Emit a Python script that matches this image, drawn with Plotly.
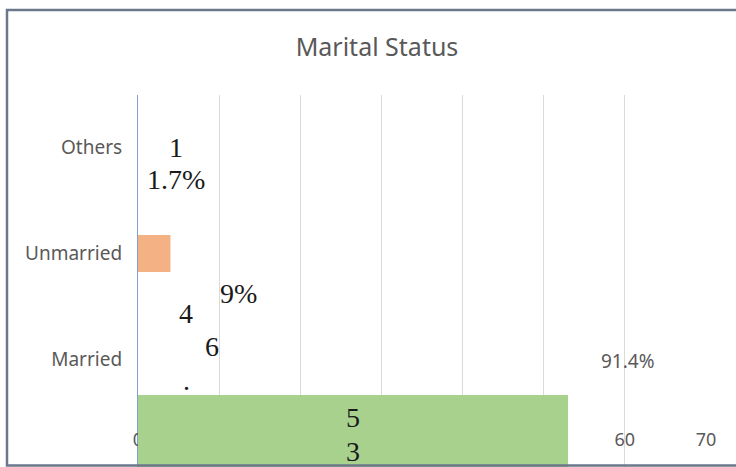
import plotly.graph_objects as go

# ---- data ----
categories = ["Married", "Unmarried", "Others"]
counts = [53, 4, 1]
bar_colors = ["#A9D18E", "#F4B183", "#FFFFFF"]
x_ticks = [0, 10, 20, 30, 40, 50, 60, 70]
title_text = "Marital Status"

# label fragments as they appear (text, x value, category, vertical shift px)
label_fragments = [
    ("1", 4.7, "Others", 0),
    ("1.7%", 4.7, "Others", -32),
    ("9%", 12.4, "Unmarried", -40),
    ("4", 5.9, "Unmarried", -60),
    ("6", 9.1, "Unmarried", -93),
    (".", 6.0, "Unmarried", -127),
    ("5", 26.5, "Married", -58),
    ("3", 26.5, "Married", -92),
]
pct_label = ("91.4%", 60.4, "Married", -2)

# ---- layout geometry ----
W, H = 736, 467
ML, MR, MT = 138, 30, 95
AXIS_Y = 412                       # pixel row of the category axis bottom
PW, PH = W - ML - MR, H - MT       # plot area runs to the bottom edge
UNIT = (AXIS_Y - MT) / 3.0         # pixels per category band
y_lo = 2.5 - PH / UNIT
x_axis_pos = (H - AXIS_Y) / PH

bar_widths = [0.8, 0.35, 0.35]
bar_offsets = [-1.14, -0.175, -0.175]

fig = go.Figure()
fig.add_trace(go.Bar(
    x=counts, y=categories, orientation="h",
    marker=dict(color=bar_colors, line=dict(width=0)),
    width=bar_widths, offset=bar_offsets,
    hoverinfo="x+y", showlegend=False,
))

annotations = []
for txt, xv, cat, ys in label_fragments:
    annotations.append(dict(
        text=txt, x=xv, y=cat, xref="x", yref="y", yshift=ys,
        showarrow=False, xanchor="center", yanchor="middle",
        font=dict(family="Liberation Serif", size=28, color="#1a1a1a"),
    ))
annotations.append(dict(
    text=pct_label[0], x=pct_label[1], y=pct_label[2], xref="x", yref="y",
    yshift=pct_label[3], showarrow=False, xanchor="center", yanchor="middle",
    font=dict(family="Noto Sans", size=19, color="#595959"),
))

def px_to_paper_x(px):
    return (px - ML) / PW

def px_to_paper_y(py):
    return (H - py) / PH

shapes = [
    # white mask hiding gridlines below the category axis
    dict(type="rect", xref="paper", yref="paper",
         x0=-0.01, x1=1.01, y0=-0.2, y1=x_axis_pos,
         line=dict(width=0), fillcolor="white", layer="between"),
    # chart frame
    dict(type="rect", xref="paper", yref="paper",
         x0=px_to_paper_x(7), x1=px_to_paper_x(745),
         y0=px_to_paper_y(465.5), y1=px_to_paper_y(10),
         line=dict(color="#6B778A", width=2.5), fillcolor="rgba(0,0,0,0)",
         layer="above"),
]

fig.update_layout(
    width=W, height=H,
    margin=dict(l=ML, r=MR, t=MT, b=0, pad=0),
    paper_bgcolor="white", plot_bgcolor="white",
    title=dict(text=title_text, x=377 / W, xanchor="center",
               y=1 - 47 / H, yanchor="middle",
               font=dict(family="Noto Sans", size=25, color="#595959")),
    xaxis=dict(range=[0, 70], tickvals=x_ticks, showgrid=True,
               gridcolor="#D9D9D9", gridwidth=1, zeroline=False,
               showline=False, ticks="", layer="below traces",
               anchor="free", position=x_axis_pos,
               ticklabelstandoff=15,
               tickfont=dict(family="Noto Sans", size=18, color="#595959")),
    yaxis=dict(type="category", categoryorder="array", categoryarray=categories,
               range=[y_lo, 2.5], domain=[0, 1], showgrid=False, zeroline=False,
               showline=True, linecolor="#7F9FD6", linewidth=1.2, ticks="",
               ticklabelstandoff=11, layer="below traces",
               tickfont=dict(family="Noto Sans", size=19, color="#595959")),
    annotations=annotations,
    shapes=shapes,
)

fig.write_html("out.html", config={"displayModeBar": False},
               post_script="document.body.style.margin='0px';")
